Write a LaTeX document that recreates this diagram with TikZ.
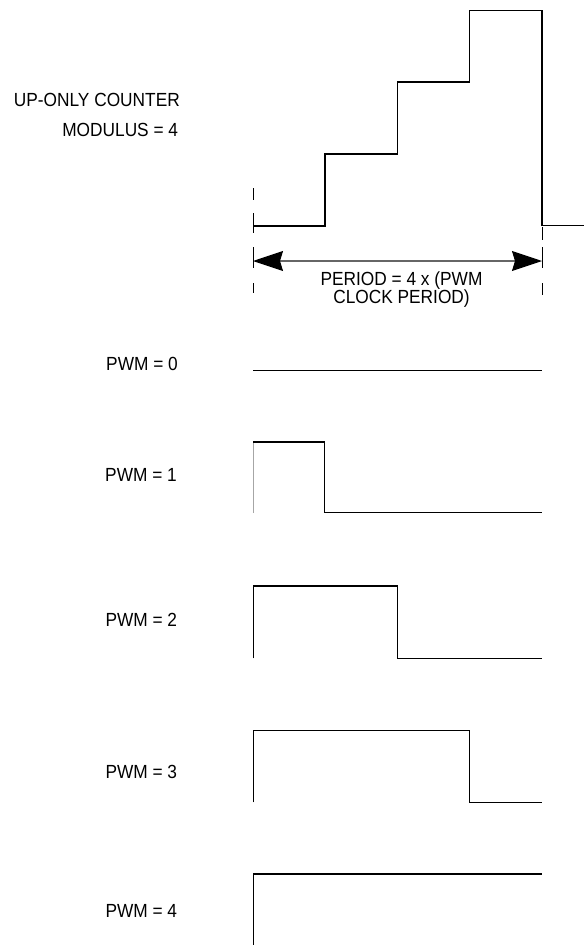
\documentclass[tikz,border=0pt]{standalone}
\usepackage{fontspec}
\setmainfont{Liberation Sans}[FakeStretch=0.91]
\usetikzlibrary{arrows.meta}
\begin{document}
\begin{tikzpicture}[x=1pt,y=-1pt,
  lbl/.style={anchor=base east,inner sep=0pt,font=\fontsize{19}{19}\selectfont},
  wave/.style={line width=1.4pt,line join=miter},
  guide/.style={line width=0.8pt},
  dim/.style={line width=1.1pt,draw=black!60,{Stealth[length=30pt,width=20pt,inset=3pt,color=black,fill=black]}-{Stealth[length=30pt,width=20pt,inset=3pt,color=black,fill=black]}}]
\useasboundingbox (0,0) rectangle (584,945);
% labels
\node[lbl] (upc) at (180,106.5) {UP-ONLY COUNTER};
\node[lbl] (mod) at (178.3,136.5) {MODULUS = 4};
\node[lbl] (p0) at (178,370) {PWM = 0};
\node[lbl] (p1) at (177,481) {PWM = 1};
\node[lbl] (p2) at (177.3,626.7) {PWM = 2};
\node[lbl] (p3) at (177.3,778.3) {PWM = 3};
\node[lbl] (p4) at (177.3,917.3) {PWM = 4};
% counter staircase
\draw[wave] (253,226) -- (325,226) -- (325,154) -- (397.5,154) -- (397.5,82) -- (469.5,82) -- (469.5,10.5) -- (542,10.5) -- (542,225.5) -- (584,225.5);
% dashed guides
\draw[guide] (253,188) -- (253,200) (253,213) -- (253,233) (253,247) -- (253,268) (253,283) -- (253,293);
\draw[guide] (542,227) -- (542,240) (542,247) -- (542,268) (542,283) -- (542,295);
% period dimension
\coordinate (pa) at (253,261);
\coordinate (pb) at (542,261);
\draw[dim] (pa) -- (pb);
\node[inner sep=0pt,align=center,anchor=north,font=\fontsize{19}{18.5}\selectfont] (per) at (401.5,271.5) {PERIOD = 4 x (PWM\\CLOCK PERIOD)};
% PWM waveforms
\draw[wave] (253,370.5) -- (542,370.5);
\draw[line width=0.7pt,draw=black!35] (253,513) -- (253,442);
\draw[wave] (253,442) -- (324.5,442) -- (324.5,512.7) -- (542,512.7);
\draw[wave] (253.3,658.3) -- (253.3,586) -- (397.3,586) -- (397.3,658.3) -- (542,658.3);
\draw[wave] (253.3,802.3) -- (253.3,730.3) -- (469.3,730.3) -- (469.3,802.3) -- (542,802.3);
\draw[wave] (253.3,945) -- (253.3,874) -- (542,874);
\end{tikzpicture}
\end{document}
